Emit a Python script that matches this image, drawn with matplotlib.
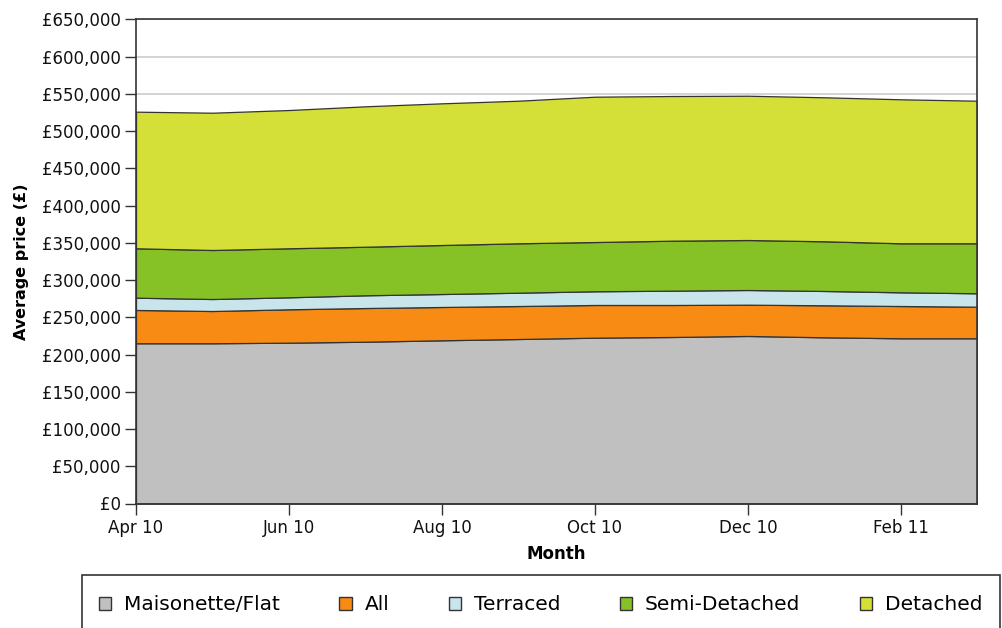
import matplotlib
matplotlib.use('Agg')
import matplotlib.pyplot as plt
from matplotlib.patches import Patch, Rectangle
from matplotlib.ticker import FuncFormatter
import numpy as np

# Data (average price in £)
months = ['Apr 10', 'May 10', 'Jun 10', 'Jul 10', 'Aug 10', 'Sep 10',
          'Oct 10', 'Nov 10', 'Dec 10', 'Jan 11', 'Feb 11', 'Mar 11']
flat = [215100, 215100, 215900, 217200, 219100, 220800, 222600, 223500, 224900, 223100, 221800, 221800]
all_types = [44700, 43300, 44800, 45200, 44700, 44300, 43900, 43000, 42000, 43000, 43300, 42400]
terraced = [16500, 16100, 16100, 17100, 17400, 17900, 18400, 19200, 19700, 19200, 18400, 18000]
semi = [66300, 65800, 65800, 65200, 65800, 66300, 66100, 67100, 67100, 66700, 65800, 67100]
detached = [183400, 184300, 185600, 188500, 190200, 191400, 195100, 194200, 193700, 193300, 193300, 191400]

labels = ['Maisonette/Flat', 'All', 'Terraced', 'Semi-Detached', 'Detached']
colours = ['#c0c0c0', '#f88b14', '#c8e5ec', '#86c226', '#d4e037']

W, H = 1003, 628
fig = plt.figure(figsize=(W / 100, H / 100), dpi=100)
ax = fig.add_axes([136 / W, 1 - 503.5 / H, (977.5 - 136) / W, (503.5 - 19.3) / H])

x = np.arange(len(months))
ax.stackplot(x, flat, all_types, terraced, semi, detached, colors=colours,
             edgecolor='#333333', linewidth=0.9, zorder=2)

ax.set_xlim(0, len(months) - 1)
ax.set_ylim(0, 650000)
ax.set_yticks(np.arange(0, 650001, 50000))
ax.yaxis.set_major_formatter(FuncFormatter(lambda v, p: '£{:,.0f}'.format(v)))
ax.set_xticks(x[::2])
ax.set_xticklabels(months[::2])

ax.yaxis.grid(True, color='#cccccc', linewidth=1.2)
ax.set_axisbelow(True)
for s in ax.spines.values():
    s.set_color('#333333')
    s.set_linewidth(1.2)
ax.tick_params(axis='both', direction='out', length=8, width=1, color='#333333',
               labelsize=12, labelcolor='#111111', pad=3)

ax.set_xlabel('Month', fontsize=12, fontweight='bold', labelpad=6)
ax.set_ylabel('Average price (£)', fontsize=11.5, fontweight='bold', labelpad=9)

# Legend box (runs off the bottom of the picture)
fig.add_artist(Rectangle((82 / W, -0.05), (1000 - 82) / W, 0.05 + 1 - 575 / H,
                         transform=fig.transFigure, fill=False,
                         edgecolor='#333333', linewidth=1.2, clip_on=False))
handles = [Patch(facecolor=c, edgecolor='#333333', linewidth=1) for c in colours]
fig.legend(handles, labels, loc='center left', bbox_to_anchor=(99 / W, 1 - 605 / H),
           ncol=5, frameon=False, fontsize=14.5, handlelength=0.6, handleheight=0.6,
           handletextpad=0.65, columnspacing=2.95, borderpad=0, borderaxespad=0)

fig.savefig('out.png', dpi=100)
